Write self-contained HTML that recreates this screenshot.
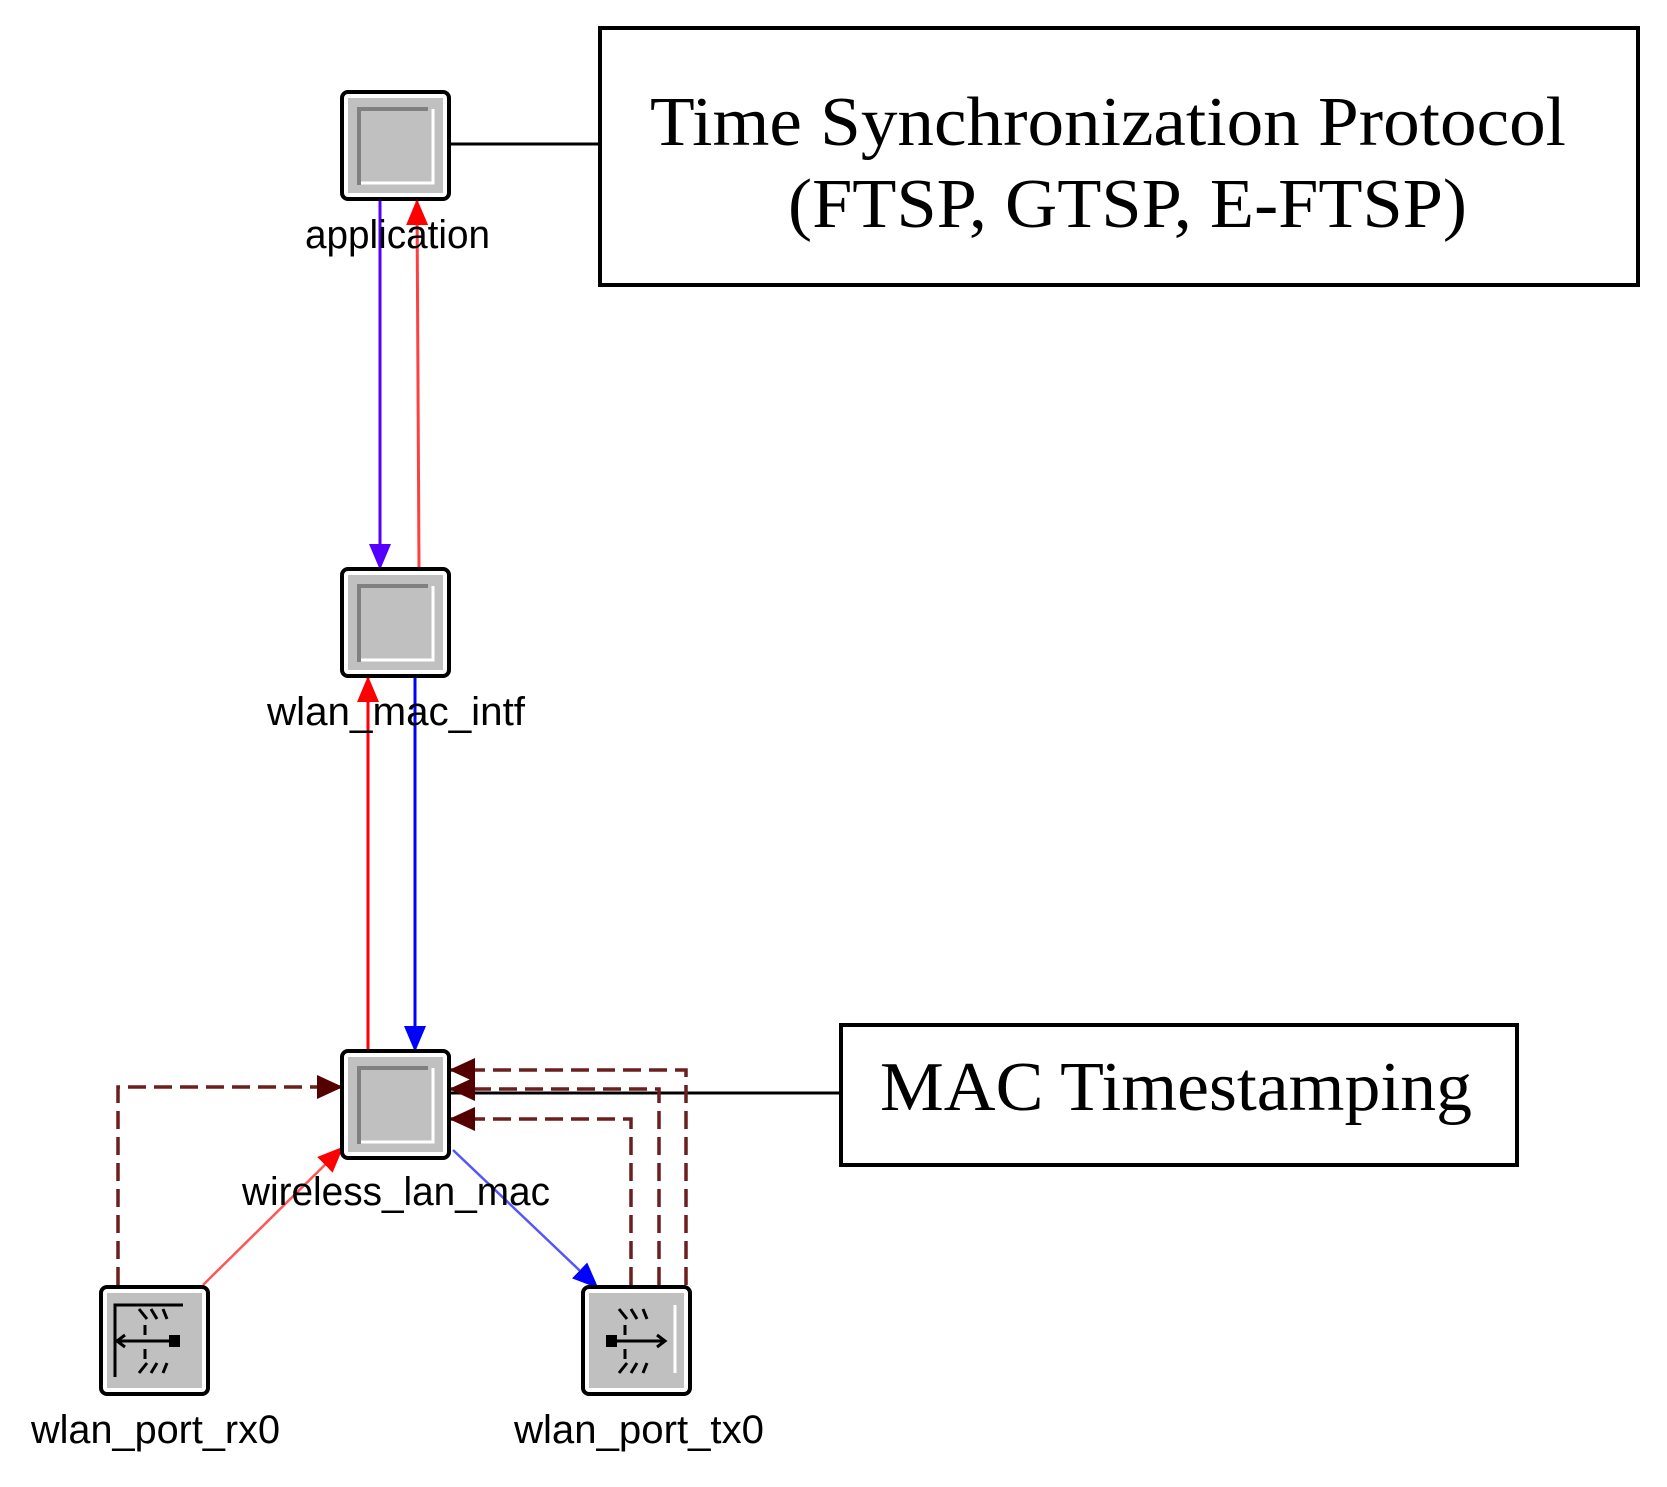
<!DOCTYPE html>
<html><head><meta charset="utf-8"><style>html,body{margin:0;padding:0;background:#fff}svg{display:block}</style></head>
<body>
<svg width="1667" height="1487" viewBox="0 0 1667 1487" xmlns="http://www.w3.org/2000/svg">
<defs>
<marker id="aR" markerWidth="26" markerHeight="22" refX="24" refY="11" orient="auto" markerUnits="userSpaceOnUse" viewBox="0 0 26 22"><path d="M0,0 L26,11 L0,22 z" fill="#ff0000"/></marker>
<marker id="aB" markerWidth="26" markerHeight="22" refX="24" refY="11" orient="auto" markerUnits="userSpaceOnUse" viewBox="0 0 26 22"><path d="M0,0 L26,11 L0,22 z" fill="#0000ff"/></marker>
<marker id="aV" markerWidth="26" markerHeight="22" refX="24" refY="11" orient="auto" markerUnits="userSpaceOnUse" viewBox="0 0 26 22"><path d="M0,0 L26,11 L0,22 z" fill="#5500ff"/></marker>
<marker id="aD" markerWidth="26" markerHeight="24" refX="24" refY="12" orient="auto" markerUnits="userSpaceOnUse" viewBox="0 0 26 24"><path d="M0,0 L26,12 L0,24 z" fill="#550000"/></marker>
<g id="box">
<rect x="2" y="2" width="107" height="107" rx="6" fill="#fff" stroke="#000" stroke-width="4"/>
<rect x="8" y="8" width="95" height="95" fill="#c0c0c0"/>
<path d="M19,95 V19 H88" fill="none" stroke="#808080" stroke-width="4"/>
<path d="M93,19 V93 H21" fill="none" stroke="#fff" stroke-width="3"/>
</g>
</defs>

<line x1="451" y1="144" x2="598" y2="144" stroke="#000" stroke-width="3"/>
<rect x="600" y="28" width="1038" height="257" fill="none" stroke="#000" stroke-width="4"/>
<text x="650" y="145" font-family="Liberation Serif, serif" font-size="70" textLength="916" lengthAdjust="spacingAndGlyphs">Time Synchronization Protocol</text>
<text x="788" y="227" font-family="Liberation Serif, serif" font-size="70" textLength="679" lengthAdjust="spacingAndGlyphs">(FTSP, GTSP, E-FTSP)</text>

<line x1="440" y1="1093" x2="841" y2="1093" stroke="#000" stroke-width="3"/>
<rect x="841" y="1025" width="676" height="140" fill="none" stroke="#000" stroke-width="4"/>
<text x="880" y="1110" font-family="Liberation Serif, serif" font-size="70" textLength="592" lengthAdjust="spacingAndGlyphs">MAC Timestamping</text>

<line x1="380" y1="201" x2="380" y2="568" stroke="#5500ff" stroke-width="3" marker-end="url(#aV)"/>
<line x1="419" y1="567" x2="417" y2="201" stroke="#ff4040" stroke-width="3" marker-end="url(#aR)"/>
<line x1="368" y1="1049" x2="368" y2="678" stroke="#ff0000" stroke-width="3" marker-end="url(#aR)"/>
<line x1="415" y1="678" x2="415" y2="1050" stroke="#0000ff" stroke-width="3" marker-end="url(#aB)"/>

<line x1="203" y1="1285" x2="342" y2="1148" stroke="#ff5555" stroke-width="2.5" marker-end="url(#aR)"/>
<line x1="453" y1="1150" x2="597" y2="1287" stroke="#5555ff" stroke-width="2.5" marker-end="url(#aB)"/>

<g fill="none" stroke="#6b1f1f" stroke-width="3.5" stroke-dasharray="18,8">
<path d="M118,1285 V1087 H341" marker-end="url(#aD)"/>
<path d="M686,1285 V1070 H451" marker-end="url(#aD)"/>
<path d="M659,1285 V1089 H451" marker-end="url(#aD)"/>
<path d="M631,1285 V1119 H451" marker-end="url(#aD)"/>
</g>

<use href="#box" x="340" y="90"/>
<use href="#box" x="340" y="567"/>
<use href="#box" x="340" y="1049"/>
<g transform="translate(99,1285)">
<rect x="2" y="2" width="107" height="107" rx="6" fill="#fff" stroke="#000" stroke-width="4"/>
<rect x="8" y="8" width="95" height="95" fill="#c0c0c0"/>
<path d="M16,92 V20 H84" fill="none" stroke="#000" stroke-width="3"/>
<line x1="16" y1="56" x2="75" y2="56" stroke="#000" stroke-width="3"/>
<rect x="70" y="50" width="11" height="12" fill="#000"/>
<path d="M26,50 L18,56 L26,62" fill="none" stroke="#000" stroke-width="3"/>
<path d="M40,24 l8,10 M52,24 l6,10 M64,24 l4,10 M40,88 l8,-10 M52,88 l6,-10 M64,88 l4,-10 M46,40 v10 M46,64 v10" stroke="#000" stroke-width="3"/>
</g>
<g transform="translate(581,1285)">
<rect x="2" y="2" width="107" height="107" rx="6" fill="#fff" stroke="#000" stroke-width="4"/>
<rect x="8" y="8" width="95" height="95" fill="#c0c0c0"/>
<line x1="94" y1="20" x2="94" y2="88" stroke="#fff" stroke-width="3"/>
<line x1="30" y1="56" x2="84" y2="56" stroke="#000" stroke-width="3"/>
<rect x="25" y="50" width="11" height="12" fill="#000"/>
<path d="M76,50 L84,56 L76,62" fill="none" stroke="#000" stroke-width="3"/>
<path d="M38,24 l8,10 M50,24 l6,10 M62,24 l4,10 M38,88 l8,-10 M50,88 l6,-10 M62,88 l4,-10 M44,40 v10 M44,64 v10" stroke="#000" stroke-width="3"/>
</g>

<g font-family="Liberation Sans, sans-serif" font-size="40" fill="#000">
<text x="305" y="248" textLength="185" lengthAdjust="spacingAndGlyphs">application</text>
<text x="267" y="725" textLength="258" lengthAdjust="spacingAndGlyphs">wlan_mac_intf</text>
<text x="242" y="1205" textLength="308" lengthAdjust="spacingAndGlyphs">wireless_lan_mac</text>
<text x="31" y="1443" textLength="249" lengthAdjust="spacingAndGlyphs">wlan_port_rx0</text>
<text x="514" y="1443" textLength="250" lengthAdjust="spacingAndGlyphs">wlan_port_tx0</text>
</g>
</svg>
</body></html>
